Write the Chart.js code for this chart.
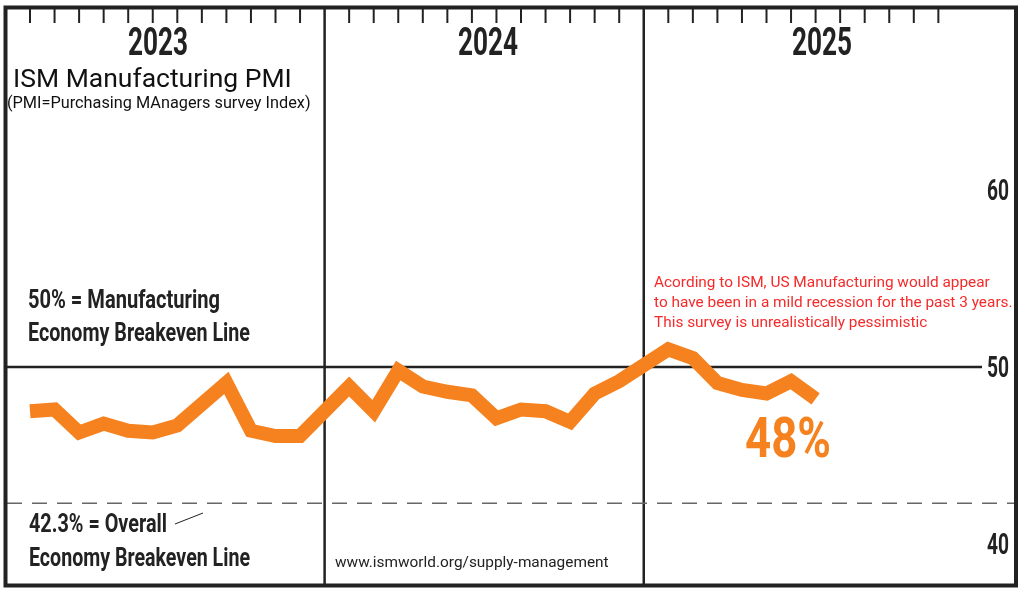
<!DOCTYPE html>
<html>
<head>
<meta charset="utf-8">
<script src="https://cdn.jsdelivr.net/npm/chart.js@4/dist/chart.umd.min.js"></script>
<style>
    body { margin: 0; background: #fff; }
    #wrap { width: 1024px; height: 592px; }
</style>
</head>
<body>
<div id="wrap"><canvas id="myChart"></canvas></div>
<script>
// values, one array per year
const years = ['2023', '2024', '2025']
const months = ['Jan', 'Feb', 'Mar', 'Apr', 'May', 'Jun', 'Jul', 'Aug', 'Sep', 'Oct', 'Nov', 'Dec']
const pmi2023 = [47.5, 47.6, 46.3, 46.8, 46.4, 46.3, 46.7, 47.9, 49.1, 46.4, 46.1, 46.1]
const pmi2024 = [48.9, 47.5, 49.8, 48.9, 48.6, 48.4, 47.1, 47.6, 47.5, 46.9, 48.5, 49.2]
const pmi2025 = [51.0, 50.5, 49.1, 48.7, 48.5, 49.2, 48.2]
const yTicks = [40, 50, 60]
const manufacturingBreakeven = 50
const overallBreakeven = 42.3
const latestLabel = '48%'

// each year takes 12 month slots plus one slot for the divider
const slotsPerYear = 13
const points = [pmi2023, pmi2024, pmi2025].flatMap((vals, yi) =>
    vals.map((v, mi) => ({ x: yi * slotsPerYear + mi, y: v, label: months[mi] + ' ' + years[yi] }))
)

const ink = '#222'
const orange = '#f5821f'
const red = '#f52a2a'

function condensed(ctx, text, x, y, size, width, align) {
    ctx.save()
    ctx.font = `bold ${size}px Roboto, "Noto Sans", sans-serif`
    const w = ctx.measureText(text).width
    ctx.translate(x, y)
    ctx.scale(width / w, 1)
    ctx.textAlign = align || 'left'
    ctx.textBaseline = 'alphabetic'
    ctx.fillText(text, 0, 0)
    ctx.restore()
}

function plain(ctx, text, x, y, size, color) {
    ctx.save()
    ctx.font = `${size}px Roboto, "Noto Sans", sans-serif`
    ctx.fillStyle = color
    ctx.textAlign = 'left'
    ctx.textBaseline = 'alphabetic'
    ctx.fillText(text, x, y)
    ctx.restore()
}

const framePlugin = {
    id: 'pmiFrame',
    beforeDraw: (chart) => {
        const { ctx } = chart
        ctx.save()
        ctx.fillStyle = '#fff'
        ctx.fillRect(0, 0, chart.width, chart.height)
        ctx.restore()
    },
    beforeDatasetsDraw: (chart) => {
        const { ctx, chartArea } = chart
        const xs = chart.scales.x
        const ys = chart.scales.y
        ctx.save()
        ctx.strokeStyle = ink

        // year dividers
        ctx.lineWidth = 2.5
        for (let yi = 1; yi < years.length; yi++) {
            const px = xs.getPixelForValue(yi * slotsPerYear - 1)
            ctx.beginPath()
            ctx.moveTo(px, chartArea.top)
            ctx.lineTo(px, chartArea.bottom)
            ctx.stroke()
        }

        // month ticks along the top
        ctx.lineWidth = 2
        years.forEach((y, yi) => {
            months.forEach((m, mi) => {
                const px = xs.getPixelForValue(yi * slotsPerYear + mi)
                ctx.beginPath()
                ctx.moveTo(px, chartArea.top)
                ctx.lineTo(px, chartArea.top + 14)
                ctx.stroke()
            })
        })

        // 50 line
        const y50 = ys.getPixelForValue(manufacturingBreakeven)
        ctx.lineWidth = 2.5
        ctx.beginPath()
        ctx.moveTo(chartArea.left, y50)
        ctx.lineTo(chartArea.right, y50)
        ctx.stroke()

        // 42.3 dashed line
        const y42 = ys.getPixelForValue(overallBreakeven)
        ctx.strokeStyle = '#666'
        ctx.lineWidth = 1.5
        ctx.setLineDash([15, 10])
        ctx.beginPath()
        ctx.moveTo(chartArea.left, y42)
        ctx.lineTo(chart.width - 8, y42)
        ctx.stroke()
        ctx.setLineDash([])

        // little pointer after "Overall"
        ctx.strokeStyle = ink
        ctx.lineWidth = 1
        ctx.beginPath()
        ctx.moveTo(175, 524)
        ctx.lineTo(203, 513)
        ctx.stroke()

        // outer frame
        ctx.strokeStyle = ink
        ctx.lineWidth = 4
        ctx.strokeRect(5.5, 7.5, 1010.5, 578)
        ctx.restore()
    },
    afterDatasetsDraw: (chart) => {
        const { ctx } = chart
        const ys = chart.scales.y
        ctx.save()
        ctx.fillStyle = ink

        // y tick labels, right hand side
        yTicks.forEach(v => {
            condensed(ctx, String(v), 987, ys.getPixelForValue(v) + 10.5, 29, 22)
        })

        // year headings
        const yearX = [158, 488, 822]
        years.forEach((y, i) => condensed(ctx, y, yearX[i], 55, 38, 60, 'center'))

        condensed(ctx, '50% = Manufacturing', 28, 308, 26, 192)
        condensed(ctx, 'Economy Breakeven Line', 28, 341, 26, 222)
        condensed(ctx, '42.3% = Overall', 29, 532, 26, 138)
        condensed(ctx, 'Economy Breakeven Line', 29, 566, 26, 221)

        ctx.fillStyle = orange
        condensed(ctx, latestLabel, 745, 457, 55, 86)

        plain(ctx, 'ISM Manufacturing PMI', 13, 87, 26.5, '#111')
        plain(ctx, '(PMI=Purchasing MAnagers survey Index)', 7, 108, 16.3, '#111')
        plain(ctx, 'Acording to ISM, US Manufacturing would appear', 654, 287, 15.4, red)
        plain(ctx, 'to have been in a mild recession for the past 3 years.', 654, 307, 15.4, red)
        plain(ctx, 'This survey is unrealistically pessimistic', 654, 327, 15.4, red)
        plain(ctx, 'www.ismworld.org/supply-management', 335, 567, 15.4, ink)
        ctx.restore()
    }
}

const ctx = document.getElementById('myChart')
const pmiChart = new Chart(ctx, {
    type: 'line',
    data: {
        datasets: [{
            label: 'ISM Manufacturing PMI',
            data: points,
            borderColor: orange,
            borderWidth: 14,
            borderCapStyle: 'butt',
            borderJoinStyle: 'miter',
            pointRadius: 0,
            tension: 0,
            fill: false
        }]
    },
    options: {
        responsive: true,
        maintainAspectRatio: false,
        animation: false,
        layout: { padding: { left: 7, top: 9, right: 42, bottom: 8 } },
        scales: {
            x: { type: 'linear', min: -0.937, max: 38.778, display: false },
            y: {
                type: 'linear', position: 'right', min: 37.74, max: 70.226, display: false,
                afterBuildTicks: (scale) => { scale.ticks = yTicks.map(v => ({ value: v })) }
            }
        },
        plugins: {
            legend: { display: false },
            tooltip: { enabled: false }
        }
    },
    plugins: [framePlugin]
})
</script>
</body>
</html>
